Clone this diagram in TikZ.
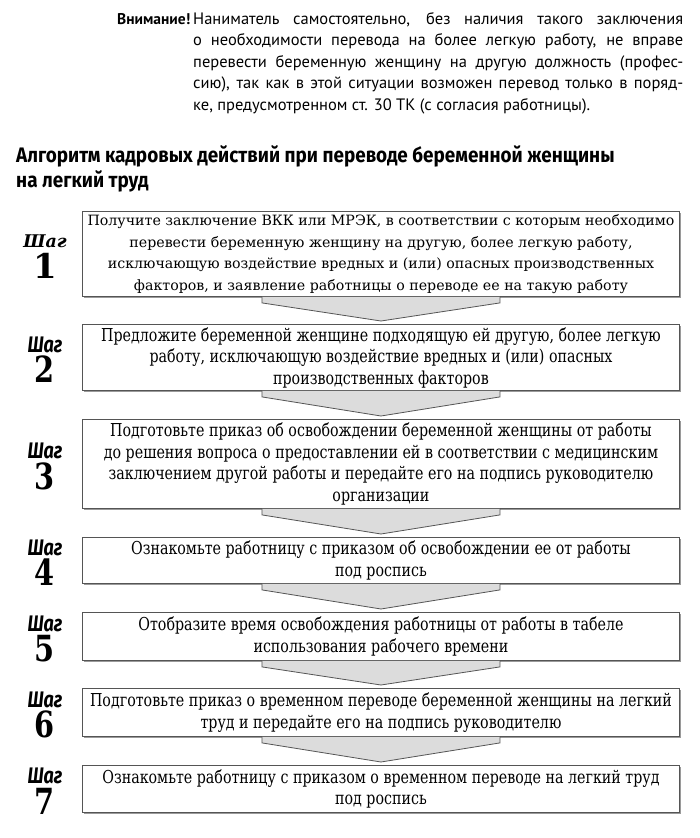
\documentclass[tikz,border=0pt]{standalone}
\usepackage{fontspec}
\usetikzlibrary{calc,shadows}
\setmainfont{DejaVu Serif}
\newfontfamily\topfont{PT Sans}
\newfontfamily\headfont[FakeStretch=0.9]{Fira Sans}
\newfontfamily\boxfontA{DejaVu Serif}
\newfontfamily\boxfontB[FakeStretch=0.8]{DejaVu Serif}
\newfontfamily\lblfontA{DejaVu Serif}
\newfontfamily\lblfontB[FakeStretch=0.8]{Fira Sans}
\newfontfamily\numfontB[FakeStretch=0.8]{DejaVu Serif}
\definecolor{boxline}{HTML}{555555}
\definecolor{shadowgray}{HTML}{9A9A9A}
\definecolor{arrowfill}{HTML}{DCDCDC}
\tikzset{
  stepbox/.style={draw=boxline, line width=0.9pt, fill=white, anchor=north west,
    minimum width=597pt, align=center, inner sep=0pt,
    drop shadow={shadow xshift=1.6pt, shadow yshift=-1.6pt, opacity=1, fill=shadowgray}},
  boxtextA/.style={font=\boxfontA\fontsize{14.2}{21.5}\selectfont},
  boxtextB/.style={font=\boxfontB\fontsize{17.8}{21.5}\selectfont},
  shagA/.style={font=\lblfontA\bfseries\itshape\fontsize{17.5}{20}\selectfont, inner sep=0pt},
  shagB/.style={font=\lblfontB\bfseries\itshape\fontsize{22.5}{22}\selectfont, inner sep=0pt},
  numA/.style={font=\lblfontA\bfseries\fontsize{34}{36}\selectfont, inner sep=0pt},
  numB/.style={font=\numfontB\bfseries\fontsize{36}{38}\selectfont, inner sep=0pt},
  flowarrow/.style={draw=boxline, fill=arrowfill, line width=0.8pt, line join=miter}
}
\begin{document}
\begin{tikzpicture}[x=1pt,y=-1pt]
\useasboundingbox (0,0) rectangle (700,838);
\fill[white] (0,0) rectangle (700,838);

% warning paragraph
\node[anchor=north west, inner sep=0pt, text width=566pt, align=justify,
  font=\topfont\fontsize{16.5}{21.5}\selectfont] (warn) at (117,12)
  {\hangindent=76pt\hangafter=1\noindent\makebox[76pt][l]{\bfseries\fontsize{15.5}{21.5}\selectfont Внимание!}Наниматель самостоятельно, без наличия такого заключения\linebreak
  о необходимости перевода на более легкую работу, не вправе\linebreak
  перевести беременную женщину на другую должность (профес-\linebreak
  сию), так как в этой ситуации возможен перевод только в поряд-\linebreak
  ке, предусмотренном ст. 30 ТК (с согласия работницы).\par};

% heading
\node[anchor=north west, inner sep=0pt, align=left,
  font=\headfont\bfseries\fontsize{21}{25}\selectfont] (head) at (16,145)
  {Алгоритм кадровых действий при переводе беременной женщины\\на легкий труд};

% boxes
\node[stepbox, boxtextA, minimum height=85pt] (b1) at (82,211)
  {Получите заключение ВКК или МРЭК, в соответствии с которым необходимо\\
   перевести беременную женщину на другую, более легкую работу,\\
   исключающую воздействие вредных и (или) опасных производственных\\
   факторов, и заявление работницы о переводе ее на такую работу};
\node[stepbox, boxtextB, minimum height=66pt] (b2) at (82,324)
  {Предложите беременной женщине подходящую ей другую, более легкую\\
   работу, исключающую воздействие вредных и (или) опасных\\
   производственных факторов};
\node[stepbox, boxtextB, minimum height=89pt] (b3) at (82,419)
  {Подготовьте приказ об освобождении беременной женщины от работы\\
   до решения вопроса о предоставлении ей в соответствии с медицинским\\
   заключением другой работы и передайте его на подпись руководителю\\
   организации};
\node[stepbox, boxtextB, minimum height=46pt] (b4) at (82,537)
  {Ознакомьте работницу с приказом об освобождении ее от работы\\
   под роспись};
\node[stepbox, boxtextB, minimum height=48pt] (b5) at (82,612)
  {Отобразите время освобождения работницы от работы в табеле\\
   использования рабочего времени};
\node[stepbox, boxtextB, minimum height=48pt] (b6) at (82,688)
  {Подготовьте приказ о временном переводе беременной женщины на легкий\\
   труд и передайте его на подпись руководителю};
\node[stepbox, boxtextB, minimum height=47pt] (b7) at (82,765)
  {Ознакомьте работницу с приказом о временном переводе на легкий труд\\
   под роспись};

% step labels
\node[shagA] (s1) at ($(b1.west)+(-37,-13)$) {Шаг};
\node[numA]  (n1) at ($(b1.west)+(-37,12)$) {1};
\foreach \i in {2,...,7}{
  \node[shagB] (s\i) at ($(b\i.west)+(-37,-13)$) {Шаг};
  \node[numB]  (n\i) at ($(b\i.west)+(-37,12)$) {\i};
}

% arrows between boxes
\foreach \a/\b in {b1/b2,b2/b3,b3/b4,b4/b5,b5/b6,b6/b7}{
  \filldraw[flowarrow] ($(\a.south)+(-119,0)$) -- ($(\a.south)+(-119,6)$)
    -- ($(\b.north)+(0,-3)$) -- ($(\a.south)+(119,6)$) -- ($(\a.south)+(119,0)$);
}
\end{tikzpicture}
\end{document}
